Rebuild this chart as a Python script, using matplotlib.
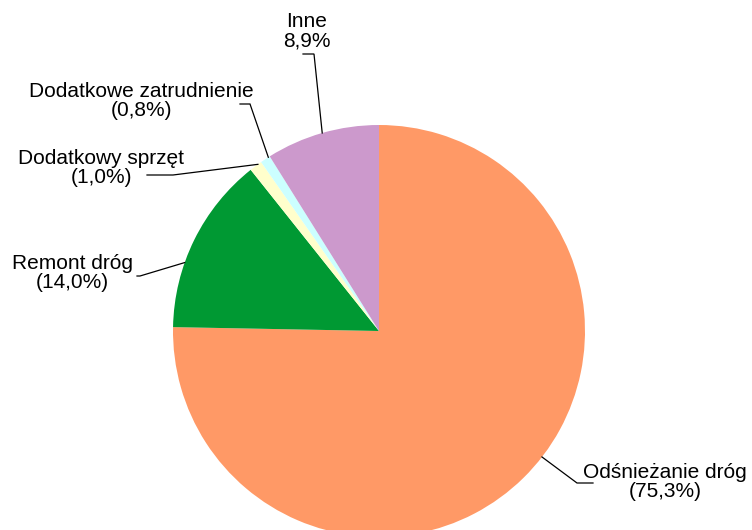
import numpy as np
import matplotlib
matplotlib.use("Agg")
import matplotlib.pyplot as plt

# data
labels = ["Odśnieżanie dróg", "Remont dróg", "Dodatkowy sprzęt",
          "Dodatkowe zatrudnienie", "Inne"]
shares = [75.3, 14.0, 1.0, 0.8, 8.9]
pct_text = ["(75,3%)", "(14,0%)", "(1,0%)", "(0,8%)", "8,9%"]
colors = ["#FF9966", "#009933", "#FFFFCC", "#CCFFFF", "#CC99CC"]

W, H = 752, 530
CX, CY, R = 379, H - 331, 206

# label layout (pixel coords, y from top) -- text centre, elbow, pie anchor angle
text_pos = [(665, 482), (72, 273), (101, 168), (141, 101), (307, 31)]
elbow = [[(593, 483), (577, 483)],
         [(137, 276), (140, 276)],
         [(147, 175), (173, 175)],
         [(240, 104), (250, 104)],
         [(303, 54), (314, 54)]]
anchor_ang = [-37.7, 160.6, 126.0, 122.5, 106.0]

plt.rcParams["font.family"] = ["Liberation Sans", "DejaVu Sans"]

fig = plt.figure(figsize=(W / 100, H / 100), dpi=100)
ax = fig.add_axes([0, 0, 1, 1])

ax.pie(shares, colors=colors, startangle=90, counterclock=False,
       center=(CX, CY), radius=R, frame=True,
       wedgeprops=dict(linewidth=0))
ax.set_xlim(0, W)
ax.set_ylim(0, H)
ax.set_aspect("equal")
ax.axis("off")

for lab, pt, (tx, ty), el, ang in zip(labels, pct_text, text_pos, elbow, anchor_ang):
    ax.text(tx, H - ty, f"{lab}\n{pt}", ha="center", va="center",
            fontsize=15, color="#000000", linespacing=1.05)
    a = np.deg2rad(ang)
    xs = [el[0][0], el[1][0], CX + R * np.cos(a)]
    ys = [H - el[0][1], H - el[1][1], CY + R * np.sin(a)]
    ax.plot(xs, ys, color="#000000", linewidth=0.9, solid_joinstyle="miter")

fig.savefig("out.png", dpi=100, facecolor="white")
